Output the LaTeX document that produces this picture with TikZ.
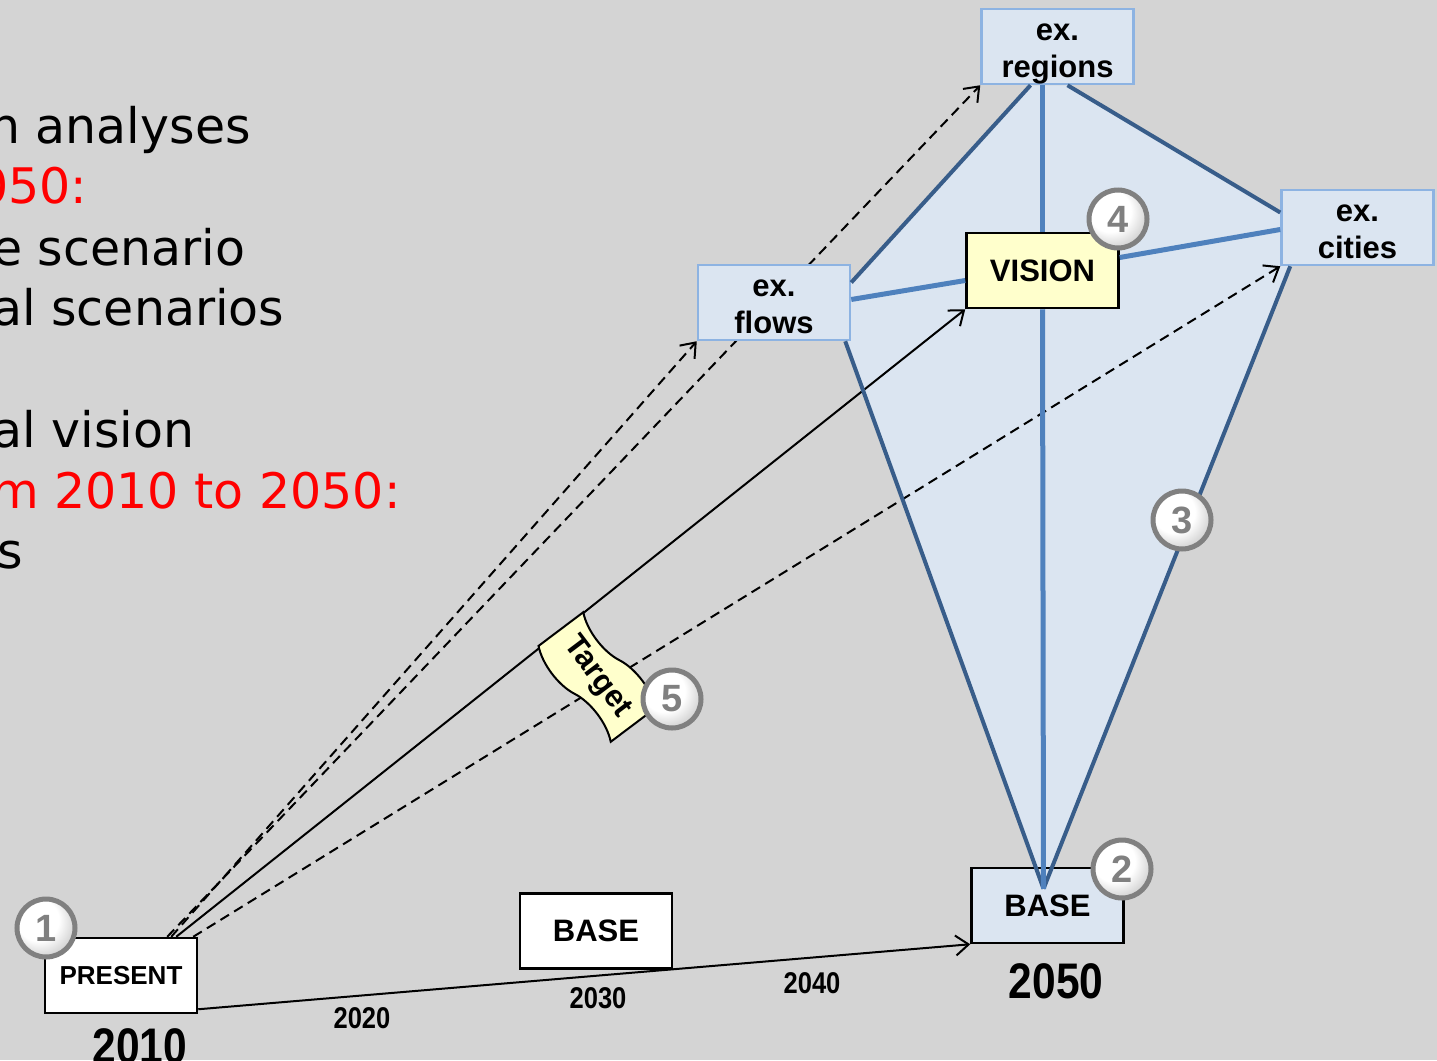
\documentclass[tikz,border=0pt]{standalone}
\usepackage{fontspec}
\setmainfont{Liberation Sans}
\newfontfamily\verdfont{DejaVu Sans}
\newfontfamily\narrowfont[FakeStretch=0.85]{Liberation Sans}
\usetikzlibrary{positioning,shapes.symbols,backgrounds,calc,arrows.meta}
\definecolor{bggray}{RGB}{212,212,212}
\definecolor{exfill}{RGB}{219,229,241}
\definecolor{exline}{RGB}{141,179,226}
\definecolor{edgedark}{RGB}{56,93,138}
\definecolor{edgelight}{RGB}{79,129,189}
\definecolor{visfill}{RGB}{255,255,204}
\definecolor{mygray}{RGB}{128,128,128}
\pgfdeclareradialshading{badgeshade}{\pgfpoint{-10bp}{10bp}}{color(0bp)=(white); color(18bp)=(white); color(40bp)=(white!68!black); color(58bp)=(white!52!black)}

\begin{document}
\begin{tikzpicture}[x=1pt,y=-1pt,
  >={Straight Barb[length=13pt,width=20pt]},
  plainbox/.style={draw=black,line width=2.5,fill=white,minimum width=152,minimum height=75,inner sep=0,font=\bfseries\fontsize{31}{37}\selectfont},
  exbox/.style={plainbox,draw=exline,fill=exfill,align=center,text height=61pt,text depth=0pt},
  visbox/.style={plainbox,fill=visfill},
  basebox/.style={plainbox,fill=exfill},
  badge/.style={circle,draw=mygray,line width=5,shading=badgeshade,minimum size=58,inner sep=0,text=mygray,font=\bfseries\fontsize{38}{38}\selectfont},
  tapebox/.style={tape,draw=black,line width=2,fill=visfill,minimum width=120,minimum height=68,tape bend height=12,inner sep=0,font=\bfseries\fontsize{31}{31}\selectfont},
  yearbig/.style={font=\narrowfont\bfseries\fontsize{50}{50}\selectfont,inner sep=0,anchor=base},
  yearsmall/.style={font=\narrowfont\bfseries\fontsize{30}{30}\selectfont,inner sep=0,anchor=base},
  dashline/.style={dash pattern=on 10pt off 6pt,line width=2},
  solidline/.style={line width=2},
  outeredge/.style={draw=edgedark,line width=4},
  inneredge/.style={draw=edgelight,line width=5},
  lefttext/.style={font=\verdfont\fontsize{49}{49}\selectfont,anchor=base west,inner sep=0}
]
\useasboundingbox (0,0) rectangle (1437,1060);

% left text, cut at the border
\begin{scope}
  \clip (0,0) rectangle (1437,1060);
  \node[lefttext] (l1) at (-11,143) {n analyses};
  \node[lefttext,text=red] (l2) at (-23,203) {050:};
  \node[lefttext] (l3) at (-8,265) {e scenario};
  \node[lefttext] (l4) at (-8,325) {al scenarios};
  \node[lefttext] (l5) at (-8,447) {al vision};
  \node[lefttext,text=red] (l6) at (-9,508) {m 2010 to 2050:};
  \node[lefttext] (l7) at (-3,568) {s};
\end{scope}

% boxes
\node[plainbox,font=\bfseries\fontsize{26}{26}\selectfont] (present) at (121,975.5) {PRESENT};
\node[plainbox] (basemid) at (596,931) {BASE};
\node[basebox] (base) at (1047.5,905.5) {BASE};
\node[visbox] (vision) at (1042.5,270.5) {VISION};
\node[exbox] (flows) at (774,302.5) {ex.\\flows};
\node[exbox] (regions) at (1057.5,46.5) {ex.\\regions};
\node[exbox] (cities) at (1357.5,227.5) {ex.\\cities};

\coordinate (bv) at ($(base.north)+(-4,22)$);

% years
\node[yearbig] (y2010) at (140,1063) {2010};
\node[yearsmall] (y2020) at (362,1028) {2020};
\node[yearsmall] (y2030) at (598,1008) {2030};
\node[yearsmall] (y2040) at (812,993) {2040};
\node[yearbig] (y2050) at (1056,998) {2050};

\begin{scope}[on background layer]
  \fill[bggray] (0,0) rectangle (1437,1060);
  \fill[exfill] ($(flows.east)+(0,-20)$) -- ($(regions.south)+(-27,0)$) -- ($(regions.south)+(10,0)$)
    -- ($(cities.west)+(0,-15)$) -- ($(cities.south west)+(10,0)$) -- (bv) -- ($(flows.south east)+(-6,0)$) -- cycle;
  \draw[dashline,->] ([xshift=-31]present.north east) -- (regions.south west);
  \draw[dashline,->] ([xshift=-27]present.north east) -- (flows.south west);
  \draw[solidline,->] ([xshift=-22]present.north east) -- (vision.south west);
  \draw[dashline,->] ([xshift=-5]present.north east) -- (cities.south west);
  \draw[solidline,->] ([yshift=5]present.south east) -- (base.south west);
\end{scope}

% kite
\draw[outeredge] ($(flows.east)+(0,-20)$) -- ($(regions.south)+(-27,0)$);
\draw[outeredge] ($(regions.south)+(10,0)$) -- ($(cities.west)+(0,-15)$);
\draw[outeredge] ($(cities.south west)+(10,0)$) -- (bv);
\draw[outeredge] ($(flows.south east)+(-6,0)$) -- (bv);
\draw[inneredge] ($(regions.south)+(-15,0)$) -- (vision.north);
\draw[inneredge] (vision.south) -- (bv);
\draw[inneredge] ($(flows.east)+(0,-3)$) -- ($(vision.west)+(0,10)$);
\draw[inneredge] ($(vision.east)+(0,-13)$) -- ($(cities.west)+(0,2)$);

\node[tapebox,rotate=-53] (target) at (597,677) {Target};

% numbers
\foreach \pos/\n in {{(46,928)}/1, {(1122,869)}/2, {(1182,520)}/3, {(1118,219)}/4, {(672,699)}/5}
  \node[badge] (badge\n) at \pos {\n};
\end{tikzpicture}
\end{document}
